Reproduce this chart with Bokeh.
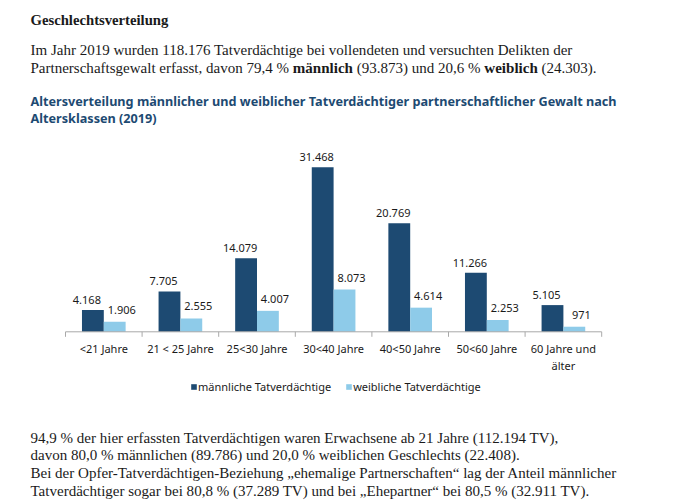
import os
import glob
from bokeh.plotting import figure
from bokeh.models import Range1d, Label, ColumnDataSource, Legend, LegendItem
from bokeh.transform import dodge
from bokeh.core.properties import value
from bokeh.embed import file_html
from bokeh.resources import INLINE

# ---------------- data ----------------
heading = "Geschlechtsverteilung"
intro_line1 = "Im Jahr 2019 wurden 118.176 Tatverdächtige bei vollendeten und versuchten Delikten der"
intro_line2 = [("Partnerschaftsgewalt erfasst, davon 79,4 % ", False), ("männlich", True),
               (" (93.873) und 20,6 % ", False), ("weiblich", True), (" (24.303).", False)]
chart_title = ["Altersverteilung männlicher und weiblicher Tatverdächtiger partnerschaftlicher Gewalt nach",
               "Altersklassen (2019)"]
categories = ["<21 Jahre", "21 < 25 Jahre", "25<30 Jahre", "30<40 Jahre",
              "40<50 Jahre", "50<60 Jahre", "60 Jahre und älter"]
male = [4168, 7705, 14079, 31468, 20769, 11266, 5105]
female = [1906, 2555, 4007, 8073, 4614, 2253, 971]
series = ["männliche Tatverdächtige", "weibliche Tatverdächtige"]
footer = [
    "94,9 % der hier erfassten Tatverdächtigen waren Erwachsene ab 21 Jahre (112.194 TV),",
    "davon 80,0 % männlichen (89.786) und 20,0 % weiblichen Geschlechts (22.408).",
    "Bei der Opfer-Tatverdächtigen-Beziehung \u201eehemalige Partnerschaften\u201c lag der Anteil männlicher",
    "Tatverdächtiger sogar bei 80,8 % (37.289 TV) und bei \u201eEhepartner\u201c bei 80,5 % (32.911 TV).",
]

# ---------------- styling ----------------
DARK = "#1d4a72"
LIGHT = "#8ecbe9"
TEXT = "#1a1a1a"
TITLE_C = "#1d4a72"
AXIS_C = "#a9a9a9"
SERIF = "Liberation Serif"
SANS = "Noto Sans"
CHART_FS = 11


def find_font(*names):
    roots = ["/usr/share/fonts", "/usr/local/share/fonts",
             os.path.expanduser("~/.fonts"), os.path.expanduser("~/.local/share/fonts")]
    for n in names:
        for r in roots:
            hits = sorted(glob.glob(os.path.join(r, "**", n), recursive=True))
            if hits:
                return hits[0]
    return None


try:
    from PIL import ImageFont
except Exception:
    ImageFont = None

_cache = {}


def measure(text, path, size, em):
    if ImageFont is not None and path:
        if path not in _cache:
            try:
                _cache[path] = ImageFont.truetype(path, 200)
            except Exception:
                _cache[path] = None
        f = _cache[path]
        if f is not None:
            return f.getlength(text) * size / 200.0
    return len(text) * em * size


SERIF_R = find_font("LiberationSerif-Regular.ttf")
SERIF_B = find_font("LiberationSerif-Bold.ttf")
SANS_R = find_font("NotoSans-Regular.ttf")
SANS_B = find_font("NotoSans-Bold.ttf")

body_fs = 14 * 542 / measure(intro_line1, SERIF_R, 14, 0.45)
head_fs = 14 * 138 / measure(heading, SERIF_B, 14, 0.48)
title_fs = 12 * 586 / measure(chart_title[0], SANS_B, 12, 0.514)

# ---------------- figure ----------------
W, H = 680, 500
CAT_PX = 76.6           # pixels per category
AXIS_LEFT = 65.0        # x of axis start
PX_PER_UNIT = 0.005231  # pixels per suspect
AXIS_Y = 168.7          # axis height above canvas bottom

x_start = -0.5 - AXIS_LEFT / CAT_PX
y_start = -AXIS_Y / PX_PER_UNIT
p = figure(width=W, height=H,
           x_range=Range1d(x_start, x_start + W / CAT_PX),
           y_range=Range1d(y_start, y_start + H / PX_PER_UNIT),
           output_backend="svg", toolbar_location=None,
           x_axis_type=None, y_axis_type=None, min_border=0)
p.outline_line_color = None
p.background_fill_color = "white"
p.border_fill_color = "white"


def de(v):
    return f"{v:,}".replace(",", ".")


n = len(categories)
src = ColumnDataSource(dict(x=list(range(n)), male=male, female=female,
                            male_lbl=[de(v) for v in male], female_lbl=[de(v) for v in female]))
BW = 0.285
r_m = p.vbar(x=dodge("x", -BW / 2), top="male", bottom=0, width=BW, source=src,
             fill_color=DARK, line_color=None)
r_f = p.vbar(x=dodge("x", BW / 2), top="female", bottom=0, width=BW, source=src,
             fill_color=LIGHT, line_color=None)

p.text(x=dodge("x", -BW / 2), y="male", text="male_lbl", source=src, x_offset=-6, y_offset=-10,
       text_align="center", text_baseline="alphabetic", text_font=value(SANS),
       text_font_size=f"{CHART_FS}px", text_color=TEXT)
p.text(x=dodge("x", BW / 2), y="female", text="female_lbl", source=src, x_offset=7, y_offset=-12,
       text_align="center", text_baseline="alphabetic", text_font=value(SANS),
       text_font_size=f"{CHART_FS}px", text_color=TEXT)

# category axis
p.segment(x0=[-0.5], x1=[n - 0.5], y0=[0], y1=[0], line_color=AXIS_C, line_width=1)
bx = [k - 0.5 for k in range(n + 1)]
p.segment(x0=bx, x1=bx, y0=[0] * len(bx), y1=[-5 / PX_PER_UNIT] * len(bx), line_color=AXIS_C, line_width=1)

lx, lt, lo = [], [], []
for i, c in enumerate(categories):
    lines = [c]
    if measure(c, SANS_R, CHART_FS, 0.5076) > CAT_PX + 2 and " " in c:
        k = c.rfind(" ")
        lines = [c[:k], c[k + 1:]]
    for j, ln in enumerate(lines):
        lx.append(i)
        lt.append(ln)
        lo.append(17 + j * 16.5)
p.text(x="x", y=0, text="t", y_offset="o", source=ColumnDataSource(dict(x=lx, t=lt, o=lo)),
       text_align="center", text_baseline="alphabetic", text_font=value(SANS),
       text_font_size=f"{CHART_FS}px", text_color=TEXT)

# legend
w1 = measure(series[0], SANS_R, CHART_FS, 0.5076)
GL = 7
STAND = 1
spacing = 156 - (GL + STAND + w1)
legend = Legend(items=[LegendItem(label=series[0], renderers=[r_m]),
                       LegendItem(label=series[1], renderers=[r_f])],
                orientation="horizontal", location=(190.0, 106.0),
                glyph_width=GL, glyph_height=GL, label_standoff=STAND, spacing=int(round(spacing)),
                padding=0, margin=0, border_line_color=None, background_fill_alpha=0,
                label_text_font=SANS, label_text_font_size=f"{CHART_FS}px",
                label_text_color=TEXT, label_height=GL, label_width=0)
p.add_layout(legend)


# ---------------- texts ----------------
def add_text(text, ix, iy, size, font, bold=False, color=TEXT):
    p.add_layout(Label(x=ix, y=H - iy, x_units="screen", y_units="screen", text=text,
                       text_font=font, text_font_size=f"{size:.2f}px",
                       text_font_style="bold" if bold else "normal",
                       text_color=color, text_align="left", text_baseline="alphabetic"))


def rich_line(segments, ix, iy, size):
    x = ix
    for txt, bold in segments:
        fp = SERIF_B if bold else SERIF_R
        em = 0.48 if bold else 0.45
        sp = measure(" ", fp, size, em * 0.6)
        lead = len(txt) - len(txt.lstrip(" "))
        trail = len(txt) - len(txt.rstrip(" "))
        core = txt.strip(" ")
        x += lead * sp
        add_text(core, x, iy, size, SERIF, bold)
        x += measure(core, fp, size, em) + trail * sp


add_text(heading, 30, 19.3, head_fs, SERIF, True)
add_text(intro_line1, 30, 49.3, body_fs, SERIF)
rich_line(intro_line2, 30, 67.3, body_fs)
add_text(chart_title[0], 30, 100.7, title_fs, SANS, True, TITLE_C)
add_text(chart_title[1], 30, 117.5, title_fs, SANS, True, TITLE_C)
for k, ln in enumerate(footer):
    add_text(ln, 30, 437.3 + k * 17.67, body_fs, SERIF)

open("out.html", "w").write(file_html(p, INLINE))
